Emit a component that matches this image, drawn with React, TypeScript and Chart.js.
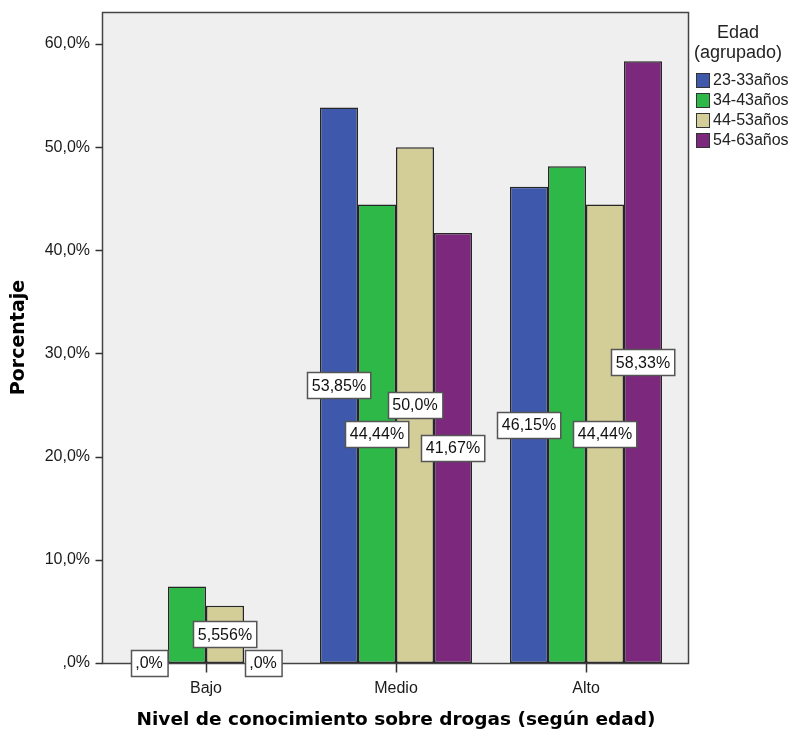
import React, { useEffect, useRef } from "react";
import { Chart, registerables } from "chart.js";

Chart.register(...registerables);

const categories = ["Bajo", "Medio", "Alto"];
const seriesNames = ["23-33años", "34-43años", "44-53años", "54-63años"];
const seriesColors = ["#3e58ac", "#2eb848", "#d3ce97", "#7c287d"];
const values23_33 = [0, 53.85, 46.15];
const values34_43 = [7.41, 44.44, 48.15];
const values44_53 = [5.556, 50.0, 44.44];
const values54_63 = [0, 41.67, 58.33];
const labels23_33 = [",0%", "53,85%", "46,15%"];
const labels34_43 = [null, "44,44%", null];
const labels44_53 = ["5,556%", "50,0%", "44,44%"];
const labels54_63 = [",0%", "41,67%", "58,33%"];
const yTickValues = [0, 10, 20, 30, 40, 50, 60];
const legendTitle = ["Edad", "(agrupado)"];
const yTitle = "Porcentaje";
const xTitle = "Nivel de conocimiento sobre drogas (según edad)";

const allValues = [values23_33, values34_43, values44_53, values54_63];
const allLabels = [labels23_33, labels34_43, labels44_53, labels54_63];

const FONT = "'Liberation Sans', Arial, sans-serif";
const TITLE_FONT = "'DejaVu Sans', Verdana, sans-serif";

function fmtTick(v: number) {
  if (v === 0) return ",0%";
  return v.toFixed(1).replace(".", ",") + "%";
}

const framePlugin = {
  id: "frame",
  beforeDatasetsDraw(chart: any) {
    const { ctx, chartArea } = chart;
    const l = chartArea.left - 9;
    const r = chartArea.right + 7;
    const t = chartArea.top;
    const b = chartArea.bottom;
    ctx.save();
    ctx.fillStyle = "#efefef";
    ctx.fillRect(l, t, r - l, b - t);
    ctx.restore();
  },
  afterDatasetsDraw(chart: any) {
    const { ctx, chartArea, scales } = chart;
    const l = Math.round(chartArea.left - 9) + 0.5;
    const r = Math.round(chartArea.right + 7) + 0.5;
    const t = Math.round(chartArea.top) + 0.5;
    const b = Math.round(chartArea.bottom) + 0.5;
    ctx.save();
    ctx.strokeStyle = "#444";
    ctx.lineWidth = 1.5;
    ctx.strokeRect(l, t, r - l, b - t);
    ctx.strokeStyle = "#333";
    for (const v of yTickValues) {
      const y = Math.round(scales.y.getPixelForValue(v)) + 0.5;
      ctx.beginPath();
      ctx.moveTo(l - 7, y);
      ctx.lineTo(l, y);
      ctx.stroke();
    }
    for (let i = 0; i < categories.length; i++) {
      const x = Math.round(scales.x.getPixelForValue(i)) + 0.5;
      ctx.beginPath();
      ctx.moveTo(x, b);
      ctx.lineTo(x, b + 9);
      ctx.stroke();
    }
    ctx.restore();

    // value labels
    ctx.save();
    ctx.font = `16px ${FONT}`;
    ctx.textAlign = "center";
    ctx.textBaseline = "middle";
    chart.data.datasets.forEach((ds: any, di: number) => {
      const meta = chart.getDatasetMeta(di);
      meta.data.forEach((bar: any, i: number) => {
        const txt = allLabels[di][i];
        if (!txt) return;
        const cy = (bar.y + bar.base) / 2;
        const cx = bar.x;
        const w = ctx.measureText(txt).width + 9;
        const h = 26;
        const bx = Math.round(cx - w / 2) + 0.5;
        const by = Math.round(cy - h / 2) + 0.5;
        ctx.fillStyle = "#ffffff";
        ctx.fillRect(bx, by, w, h);
        ctx.strokeStyle = "#555";
        ctx.lineWidth = 1.5;
        ctx.strokeRect(bx, by, w, h);
        ctx.fillStyle = "#111";
        ctx.fillText(txt, cx, cy + 1);
      });
    });
    ctx.restore();

    // legend
    ctx.save();
    ctx.fillStyle = "#222";
    ctx.font = `18px ${FONT}`;
    ctx.textAlign = "center";
    ctx.textBaseline = "middle";
    ctx.fillText(legendTitle[0], 738, 33);
    ctx.fillText(legendTitle[1], 738, 53);
    ctx.font = `16px ${FONT}`;
    ctx.textAlign = "left";
    for (let i = 0; i < seriesNames.length; i++) {
      const y = 73 + i * 20;
      ctx.fillStyle = seriesColors[i];
      ctx.fillRect(696.5, y + 0.5, 13, 14);
      ctx.strokeStyle = "#333";
      ctx.lineWidth = 1;
      ctx.strokeRect(696.5, y + 0.5, 13, 14);
      ctx.fillStyle = "#222";
      ctx.fillText(seriesNames[i], 713, y + 8);
    }
    ctx.restore();
  },
};

export default function App() {
  const ref = useRef<HTMLCanvasElement | null>(null);
  useEffect(() => {
    if (!ref.current) return;
    const chart = new Chart(ref.current, {
      type: "bar",
      data: {
        labels: categories,
        datasets: seriesNames.map((name, i) => ({
          label: name,
          data: allValues[i],
          backgroundColor: seriesColors[i],
          borderColor: "#262626",
          borderWidth: 1.5,
          borderSkipped: false,
          categoryPercentage: 0.8,
          barPercentage: 1.0,
        })),
      },
      options: {
        responsive: false,
        animation: false,
        layout: { padding: { left: 0, right: 110, top: 12, bottom: 0 } },
        plugins: {
          legend: { display: false },
          tooltip: { enabled: false },
        },
        scales: {
          x: {
            grid: { display: false, drawTicks: false },
            border: { display: false },
            ticks: {
              padding: 16,
              color: "#1a1a1a",
              font: { family: FONT, size: 16 },
            },
            title: {
              display: true,
              text: xTitle,
              color: "#000",
              font: { family: TITLE_FONT, size: 18.5, weight: "bold" },
              padding: { top: 0, bottom: 0 },
            },
            afterFit: (s: any) => {
              s.height = 68;
              s.paddingLeft = 0;
              s.paddingRight = 0;
            },
          },
          y: {
            min: 0,
            max: 63.1,
            afterBuildTicks: (s: any) => {
              s.ticks = yTickValues.map((v) => ({ value: v }));
            },
            grid: { display: false, drawTicks: false },
            border: { display: false },
            ticks: {
              padding: 21,
              color: "#1a1a1a",
              font: { family: FONT, size: 16 },
              callback: (v: any) => fmtTick(Number(v)),
            },
            title: {
              display: true,
              text: yTitle,
              color: "#000",
              font: { family: TITLE_FONT, size: 19, weight: "bold" },
              padding: { top: 8, bottom: 0 },
            },
            afterFit: (s: any) => {
              s.width = 111;
              s.paddingTop = 0;
              s.paddingBottom = 0;
            },
          },
        },
      },
      plugins: [framePlugin],
    });
    return () => chart.destroy();
  }, []);
  return (
    <div style={{ position: "fixed", left: 0, top: 0, width: 791, height: 731, background: "#fff" }}>
      <canvas ref={ref} width={791} height={731} style={{ width: 791, height: 731, display: "block" }} />
    </div>
  );
}
